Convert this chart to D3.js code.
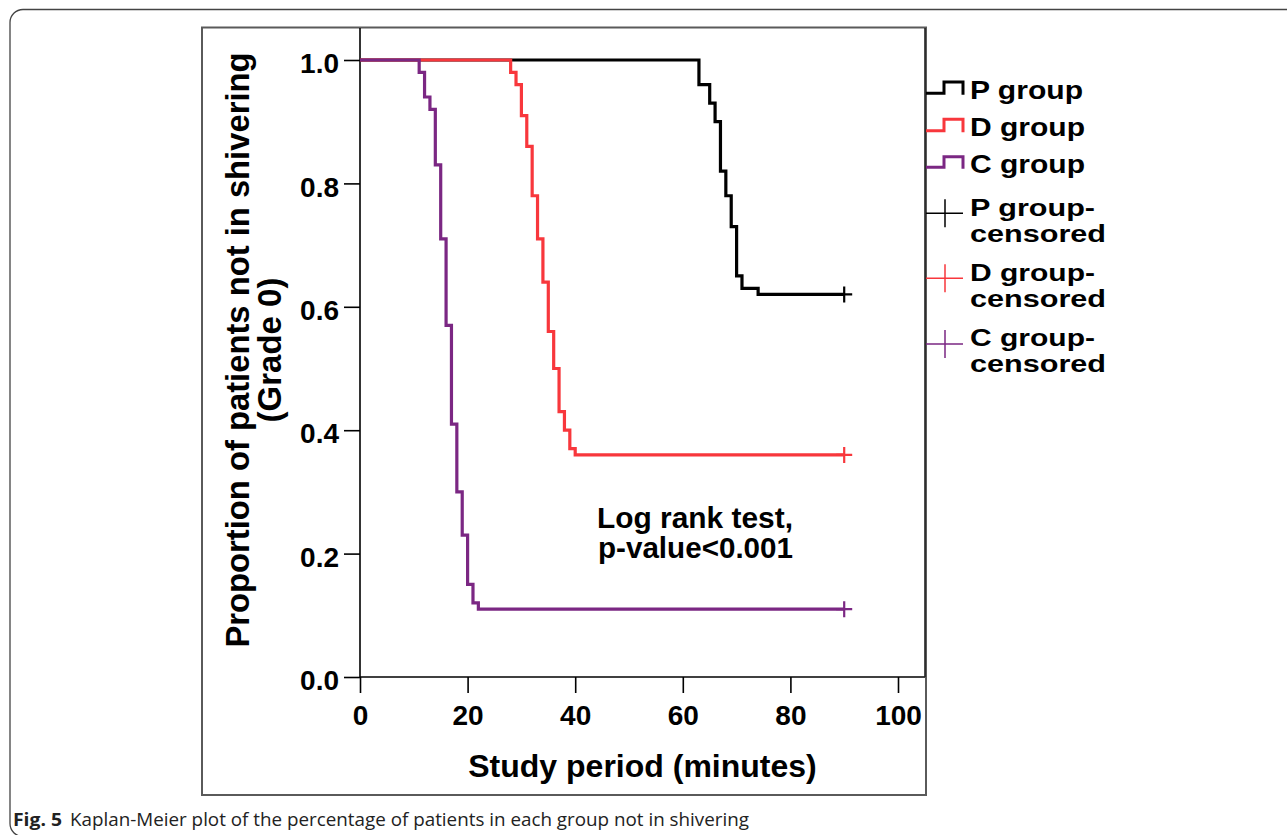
<!DOCTYPE html>
<html>
<head>
<meta charset="utf-8">
<script src="https://cdn.jsdelivr.net/npm/d3@7/dist/d3.min.js"></script>
<style>
  body { margin: 0; background: #fff; }
  svg { display: block; }
</style>
</head>
<body>
<svg id="chart" width="1287" height="835"></svg>
<script>
// ---- data ----
const groups = ["P group", "D group", "C group"];
const pTimes = [0, 63, 65, 66, 67, 68, 69, 70, 71, 74];
const pSurv  = [1, 0.96, 0.93, 0.90, 0.82, 0.78, 0.73, 0.65, 0.63, 0.62];
const dTimes = [0, 28, 29, 30, 31, 32, 33, 34, 35, 36, 37, 38, 39, 40];
const dSurv  = [1, 0.98, 0.96, 0.91, 0.86, 0.78, 0.71, 0.64, 0.56, 0.50, 0.43, 0.40, 0.37, 0.36];
const cTimes = [0, 11, 12, 13, 14, 15, 16, 17, 18, 19, 20, 21, 22];
const cSurv  = [1, 0.98, 0.94, 0.92, 0.83, 0.71, 0.57, 0.41, 0.30, 0.23, 0.15, 0.12, 0.11];
const censorTime = [90, 90, 90];
const xTicks = [0, 20, 40, 60, 80, 100];
const yTicks = [0, 0.2, 0.4, 0.6, 0.8, 1.0];
const colors = ["#000000", "#f8373c", "#7b2783"];

const SANS = "'Liberation Sans', Arial, sans-serif";
const svg = d3.select("#chart").style("font-family", SANS);
svg.append("rect").attr("width", 1287).attr("height", 835).attr("fill", "#fff");

// outer rounded border
svg.append("rect").attr("x", 10).attr("y", 9.5).attr("width", 1300).attr("height", 827)
  .attr("rx", 13).attr("fill", "none").attr("stroke", "#444").attr("stroke-width", 1.3);

// inner figure box
const box = {l: 202, t: 27.5, r: 926, b: 795};
svg.append("rect").attr("x", box.l).attr("y", box.t).attr("width", box.r - box.l).attr("height", box.b - box.t)
  .attr("fill", "none").attr("stroke", "#5a5a5a").attr("stroke-width", 2);

// scales
const x = d3.scaleLinear().domain([0, 100]).range([360, 898]);
const y = d3.scaleLinear().domain([0, 1]).range([677, 60]);
const plotTop = 28, plotRight = 925;

// frame lines
svg.append("line").attr("x1", x(0)).attr("x2", x(0)).attr("y1", plotTop).attr("y2", y(0))
  .attr("stroke", "#000").attr("stroke-width", 1.6);
svg.append("line").attr("x1", x(0)).attr("x2", plotRight).attr("y1", y(0)).attr("y2", y(0))
  .attr("stroke", "#000").attr("stroke-width", 1.6);
svg.append("line").attr("x1", plotRight).attr("x2", plotRight).attr("y1", plotTop).attr("y2", y(0))
  .attr("stroke", "#222").attr("stroke-width", 1.6);

// axes
const yAxis = d3.axisLeft(y).tickValues(yTicks).tickSize(16).tickPadding(5).tickFormat(d3.format(".1f"));
const gy = svg.append("g").attr("transform", `translate(${x(0)},0)`).call(yAxis);
gy.attr("font-family", null).attr("font-size", null);
gy.select(".domain").remove();
gy.selectAll("line").attr("stroke", "#000").attr("stroke-width", 1.6);
gy.selectAll("text").attr("font-size", 28).attr("font-weight", "bold").attr("fill", "#000")
  .attr("dy", "0.45em").style("font-family", SANS);

const xAxis = d3.axisBottom(x).tickValues(xTicks).tickSize(16).tickPadding(12);
const gx = svg.append("g").attr("transform", `translate(0,${y(0)})`).call(xAxis);
gx.attr("font-family", null).attr("font-size", null);
gx.select(".domain").remove();
gx.selectAll("line").attr("stroke", "#000").attr("stroke-width", 1.6);
gx.selectAll("text").attr("font-size", 28).attr("font-weight", "bold").attr("fill", "#000")
  .style("font-family", SANS);

// axis titles
svg.append("text").attr("x", (x(0) + plotRight) / 2).attr("y", 777).attr("text-anchor", "middle")
  .attr("font-size", 32).attr("font-weight", "bold").text("Study period (minutes)");

const yl = svg.append("g").attr("transform", "translate(0,350) rotate(-90)");
yl.append("text").attr("x", 0).attr("y", 249).attr("text-anchor", "middle")
  .attr("font-size", 33).attr("font-weight", "bold")
  .attr("textLength", 595).attr("lengthAdjust", "spacingAndGlyphs")
  .text("Proportion of patients not in shivering");
yl.append("text").attr("x", 0).attr("y", 281).attr("text-anchor", "middle")
  .attr("font-size", 33).attr("font-weight", "bold").text("(Grade 0)");

// curves
const series = [
  {t: pTimes, s: pSurv},
  {t: dTimes, s: dSurv},
  {t: cTimes, s: cSurv}
];
const line = d3.line().x(d => x(d[0])).y(d => y(d[1])).curve(d3.curveStepAfter);
series.forEach((ser, i) => {
  const pts = ser.t.map((t, j) => [t, ser.s[j]]);
  pts.push([censorTime[i], ser.s[ser.s.length - 1]]);
  svg.append("path").attr("d", line(pts)).attr("fill", "none")
    .attr("stroke", colors[i]).attr("stroke-width", 3.2).attr("stroke-linejoin", "miter");
  const cx = x(censorTime[i]), cy = y(ser.s[ser.s.length - 1]);
  svg.append("path").attr("d", `M${cx - 8},${cy}H${cx + 8}M${cx},${cy - 8}V${cy + 8}`)
    .attr("stroke", colors[i]).attr("stroke-width", 2.2).attr("fill", "none");
});

// annotation
const ann = svg.append("text").attr("font-size", 29).attr("font-weight", "bold");
ann.append("tspan").attr("x", 597).attr("y", 528)
  .attr("textLength", 196).attr("lengthAdjust", "spacingAndGlyphs").text("Log rank test,");
ann.append("tspan").attr("x", 598).attr("y", 558)
  .attr("textLength", 195).attr("lengthAdjust", "spacingAndGlyphs").text("p-value<0.001");

// legend
const lg = svg.append("g");
const stepRows = [{low: 93.3, up: 82, base: 99, w: 113}, {low: 130.7, up: 119.3, base: 136, w: 115}, {low: 167.3, up: 156.7, base: 173, w: 115}];
stepRows.forEach((r, i) => {
  lg.append("path").attr("d", `M926,${r.low}H944V${r.up}H963V${r.low + 1.5}`)
    .attr("fill", "none").attr("stroke", colors[i]).attr("stroke-width", 3);
  lg.append("text").attr("x", 970).attr("y", r.base).attr("font-size", 25).attr("font-weight", "bold")
    .attr("textLength", r.w).attr("lengthAdjust", "spacingAndGlyphs").text(groups[i]);
});
const censRows = [{h: 213.3, b1: 215.5, b2: 241.5}, {h: 278.3, b1: 280.5, b2: 306.5}, {h: 344, b1: 345.5, b2: 371.5}];
censRows.forEach((r, i) => {
  lg.append("path").attr("d", `M926,${r.h}H963M945,${r.h - 14}V${r.h + 14}`)
    .attr("fill", "none").attr("stroke", colors[i]).attr("stroke-width", 1.5);
  lg.append("text").attr("x", 970).attr("y", r.b1).attr("font-size", 23).attr("font-weight", "bold")
    .attr("textLength", 125).attr("lengthAdjust", "spacingAndGlyphs").text(groups[i] + "-");
  lg.append("text").attr("x", 970).attr("y", r.b2).attr("font-size", 23).attr("font-weight", "bold")
    .attr("textLength", 136).attr("lengthAdjust", "spacingAndGlyphs").text("censored");
});

// caption
const cap = svg.append("text").attr("y", 826).attr("font-size", 18).attr("fill", "#222")
  .style("font-family", "'Open Sans', sans-serif");
cap.append("tspan").attr("x", 13).attr("font-weight", "bold")
  .attr("textLength", 49).attr("lengthAdjust", "spacingAndGlyphs").text("Fig. 5");
cap.append("tspan").attr("x", 70)
  .attr("textLength", 679).attr("lengthAdjust", "spacingAndGlyphs")
  .text("Kaplan-Meier plot of the percentage of patients in each group not in shivering");
</script>
</body>
</html>
